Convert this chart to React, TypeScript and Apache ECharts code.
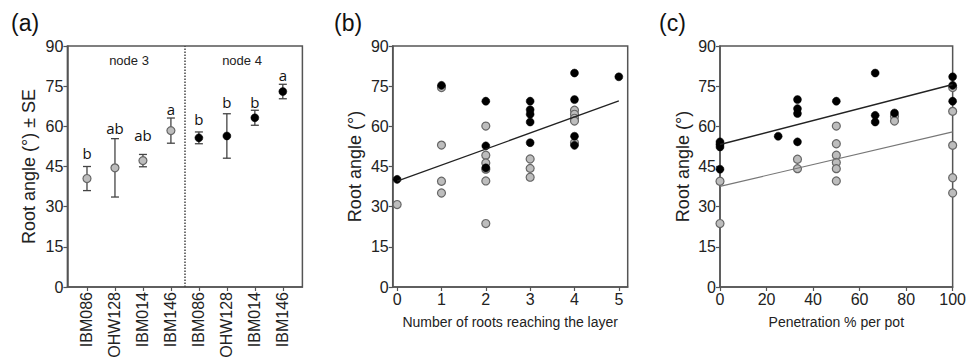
import React, { useEffect, useRef } from "react";
import * as echarts from "echarts";

// ---------- Panel (a) ----------
const genotypes = ["IBM086", "OHW128", "IBM014", "IBM146"];
const node3Mean = [40.5, 44.5, 47.2, 58.4];
const node3SE = [4.5, 10.9, 2.3, 4.7];
const node4Mean = [55.7, 56.4, 63.2, 73.0];
const node4SE = [2.2, 8.3, 2.8, 2.7];
const node3Letters = ["b", "ab", "ab", "a"];
const node4Letters = ["b", "b", "b", "a"];
const node3LetterY = [50.0, 59.4, 56.6, 66.4];
const node4LetterY = [62.6, 69.1, 69.1, 79.1];

// ---------- Panel (b) ----------
const bBlack = [
  [0, 40.2], [1, 75.3], [2, 69.4], [2, 52.7], [2, 44.5],
  [3, 69.4], [3, 66.2], [3, 64.5], [3, 61.6], [3, 53.9],
  [4, 79.9], [4, 70.0], [4, 56.3], [4, 52.9], [5, 78.5],
];
const bGray = [
  [0, 30.8], [1, 74.5], [1, 53.0], [1, 39.5], [1, 35.1],
  [2, 60.1], [2, 49.2], [2, 46.3], [2, 44.0], [2, 39.6], [2, 23.7],
  [3, 47.8], [3, 44.3], [3, 41.0],
  [4, 66.0], [4, 64.5], [4, 63.0], [4, 62.0], [4, 53.9],
];
const bFit = [39.5, 6.0]; // intercept, slope
const bFitRange = [0, 5];

// ---------- Panel (c) ----------
const cBlack = [
  [0, 54.2], [0, 53.3], [0, 52.3], [0, 44.0], [25, 56.3],
  [33.3, 70.0], [33.3, 66.6], [33.3, 64.8], [33.3, 54.2],
  [50, 69.4], [66.7, 79.9], [66.7, 64.1], [66.7, 61.6],
  [75, 65.0], [100, 78.5], [100, 75.3], [100, 69.4],
];
const cGray = [
  [0, 39.5], [0, 23.7], [33.3, 47.7], [33.3, 44.2],
  [50, 60.1], [50, 53.5], [50, 49.2], [50, 46.5], [50, 44.2], [50, 39.6],
  [75, 63.8], [75, 62.0],
  [100, 74.5], [100, 65.6], [100, 52.9], [100, 40.8], [100, 35.1],
];
const cFitBlack = [53.2, 0.224];
const cFitGray = [37.6, 0.203];
const cFitRange = [0, 100];

const yTicks = { min: 0, max: 90, interval: 15 };

const FONT = "'Liberation Sans', Arial, sans-serif";
const AXIS_COLOR = "#555";
const TEXT_COLOR = "#222";
const GRAY_FILL = "#bdbdbd";
const GRAY_BORDER = "#666";
const BLACK = "#000";

function fitLine(coef: number[], range: number[]) {
  return range.map((x) => [x, coef[0] + coef[1] * x]);
}

function yAxis(gridIndex: number, name: string, nameGap: number) {
  return {
    type: "value",
    gridIndex,
    min: yTicks.min,
    max: yTicks.max,
    interval: yTicks.interval,
    name,
    nameLocation: "middle",
    nameGap,
    nameTextStyle: { fontFamily: FONT, fontSize: 18, color: TEXT_COLOR },
    axisLine: { show: true, onZero: false, lineStyle: { color: AXIS_COLOR, width: 1.5 } },
    axisTick: { show: true, inside: false, length: 4, lineStyle: { color: AXIS_COLOR, width: 1.2 } },
    axisLabel: { fontFamily: FONT, fontSize: 16, color: TEXT_COLOR, margin: 4 },
    splitLine: { show: false },
  };
}

export default function App() {
  const ref = useRef<HTMLDivElement>(null);

  useEffect(() => {
    if (!ref.current) return;
    const chart = echarts.init(ref.current, null, { renderer: "svg" });

    const errData: number[][] = [];
    const letterData: any[] = [];
    const n3pts: number[][] = [];
    const n4pts: number[][] = [];
    genotypes.forEach((g, i) => {
      errData.push([i, node3Mean[i], node3SE[i]]);
      letterData.push({ value: [i, node3LetterY[i]], name: node3Letters[i] });
      n3pts.push([i, node3Mean[i]]);
    });
    genotypes.forEach((g, i) => {
      const k = i + genotypes.length;
      errData.push([k, node4Mean[i], node4SE[i]]);
      letterData.push({ value: [k, node4LetterY[i]], name: node4Letters[i] });
      n4pts.push([k, node4Mean[i]]);
    });
    const catIdx = Array.from({ length: genotypes.length * 2 }, (_, i) => i);

    const gridBase = {
      top: 46,
      height: 241,
      width: 235,
      show: true,
      borderColor: AXIS_COLOR,
      borderWidth: 1.5,
      backgroundColor: "transparent",
      containLabel: false,
    };

    const grayStyle = { color: GRAY_FILL, borderColor: GRAY_BORDER, borderWidth: 1.2, opacity: 1 };
    const blackStyle = { color: BLACK, borderColor: BLACK, borderWidth: 0.5, opacity: 1 };

    const option: any = {
      animation: false,
      backgroundColor: "#fff",
      textStyle: { fontFamily: FONT },
      grid: [
        { ...gridBase, left: 67.4 },
        { ...gridBase, left: 392.7 },
        { ...gridBase, left: 720 },
      ],
      xAxis: [
        {
          type: "value",
          gridIndex: 0,
          min: -0.7,
          max: 7.7,
          axisLine: { show: true, onZero: false, lineStyle: { color: AXIS_COLOR, width: 1.5 } },
          axisTick: { show: true, length: 4, customValues: catIdx, lineStyle: { color: AXIS_COLOR, width: 1.2 } },
          axisLabel: {
            customValues: catIdx,
            rotate: 90,
            fontFamily: FONT,
            fontSize: 16,
            color: TEXT_COLOR,
            margin: 5,
            formatter: (v: number) => genotypes[Math.round(v) % genotypes.length],
          },
          splitLine: { show: false },
        },
        {
          type: "value",
          gridIndex: 1,
          min: -0.1,
          max: 5.2,
          name: "Number of roots reaching the layer",
          nameLocation: "middle",
          nameGap: 28,
          nameTextStyle: { fontFamily: FONT, fontSize: 14, color: TEXT_COLOR },
          axisLine: { show: true, onZero: false, lineStyle: { color: AXIS_COLOR, width: 1.5 } },
          axisTick: { show: true, length: 4, customValues: [0, 1, 2, 3, 4, 5], lineStyle: { color: AXIS_COLOR, width: 1.2 } },
          axisLabel: { customValues: [0, 1, 2, 3, 4, 5], fontFamily: FONT, fontSize: 16, color: TEXT_COLOR, margin: 4 },
          splitLine: { show: false },
        },
        {
          type: "value",
          gridIndex: 2,
          min: 0,
          max: 100,
          interval: 20,
          name: "Penetration % per pot",
          nameLocation: "middle",
          nameGap: 28,
          nameTextStyle: { fontFamily: FONT, fontSize: 14, color: TEXT_COLOR },
          axisLine: { show: true, onZero: false, lineStyle: { color: AXIS_COLOR, width: 1.5 } },
          axisTick: { show: true, length: 4, lineStyle: { color: AXIS_COLOR, width: 1.2 } },
          axisLabel: { fontFamily: FONT, fontSize: 16, color: TEXT_COLOR, margin: 4 },
          splitLine: { show: false },
        },
      ],
      yAxis: [
        yAxis(0, "Root angle (°) ± SE", 29),
        yAxis(1, "Root angle (°)", 29),
        yAxis(2, "Root angle (°)", 28),
      ],
      series: [
        // ----- panel a -----
        {
          type: "custom",
          xAxisIndex: 0,
          yAxisIndex: 0,
          data: errData,
          z: 2,
          itemStyle: { color: "#444" },
          renderItem: (params: any, api: any) => {
            const x = api.value(0);
            const m = api.value(1);
            const se = api.value(2);
            const top = api.coord([x, m + se]);
            const bot = api.coord([x, m - se]);
            const hw = 4;
            const st = { stroke: "#444", lineWidth: 1.3 };
            return {
              type: "group",
              children: [
                { type: "line", shape: { x1: top[0], y1: top[1], x2: bot[0], y2: bot[1] }, style: st },
                { type: "line", shape: { x1: top[0] - hw, y1: top[1], x2: top[0] + hw, y2: top[1] }, style: st },
                { type: "line", shape: { x1: bot[0] - hw, y1: bot[1], x2: bot[0] + hw, y2: bot[1] }, style: st },
              ],
            };
          },
          markLine: {
            silent: true,
            symbol: "none",
            label: { show: false },
            lineStyle: { type: "dotted", color: "#444", width: 1.5 },
            data: [{ xAxis: 3.5 }],
          },
        },
        {
          type: "scatter",
          xAxisIndex: 0,
          yAxisIndex: 0,
          data: n3pts,
          symbolSize: 8,
          itemStyle: grayStyle,
          z: 3,
        },
        {
          type: "scatter",
          xAxisIndex: 0,
          yAxisIndex: 0,
          data: n4pts,
          symbolSize: 8,
          itemStyle: blackStyle,
          z: 3,
        },
        {
          type: "scatter",
          xAxisIndex: 0,
          yAxisIndex: 0,
          data: letterData,
          symbolSize: 0,
          itemStyle: { color: "transparent" },
          z: 4,
          label: {
            show: true,
            position: "inside",
            formatter: (p: any) => p.name,
            fontFamily: "'Open Sans', sans-serif",
            fontSize: 15,
            color: "#111",
            opacity: 1,
          },
        },
        // ----- panel b -----
        {
          type: "scatter",
          xAxisIndex: 1,
          yAxisIndex: 1,
          data: bGray,
          symbolSize: 8,
          clip: false,
          itemStyle: grayStyle,
          z: 2,
        },
        {
          type: "scatter",
          xAxisIndex: 1,
          yAxisIndex: 1,
          data: bBlack,
          symbolSize: 8,
          clip: false,
          itemStyle: blackStyle,
          z: 3,
        },
        {
          type: "line",
          xAxisIndex: 1,
          yAxisIndex: 1,
          data: fitLine(bFit, bFitRange),
          showSymbol: false,
          symbol: "none",
          lineStyle: { color: "#222", width: 1.3 },
          z: 5,
        },
        // ----- panel c -----
        {
          type: "scatter",
          xAxisIndex: 2,
          yAxisIndex: 2,
          data: cGray,
          symbolSize: 8,
          clip: false,
          itemStyle: grayStyle,
          z: 2,
        },
        {
          type: "scatter",
          xAxisIndex: 2,
          yAxisIndex: 2,
          data: cBlack,
          symbolSize: 8,
          clip: false,
          itemStyle: blackStyle,
          z: 3,
        },
        {
          type: "line",
          xAxisIndex: 2,
          yAxisIndex: 2,
          data: fitLine(cFitBlack, cFitRange),
          symbol: "none",
          lineStyle: { color: "#222", width: 1.5 },
          z: 5,
        },
        {
          type: "line",
          xAxisIndex: 2,
          yAxisIndex: 2,
          data: fitLine(cFitGray, cFitRange),
          symbol: "none",
          lineStyle: { color: "#777", width: 1.2 },
          z: 5,
        },
      ],
      graphic: [
        { type: "text", left: 11, top: 11, style: { text: "(a)", fontFamily: FONT, fontSize: 23, fill: "#111" } },
        { type: "text", left: 334, top: 11, style: { text: "(b)", fontFamily: FONT, fontSize: 23, fill: "#111" } },
        { type: "text", left: 659, top: 11, style: { text: "(c)", fontFamily: FONT, fontSize: 23, fill: "#111" } },
        { type: "text", x: 129, y: 60, style: { text: "node 3", fontFamily: FONT, fontSize: 13, fill: TEXT_COLOR, align: "center", verticalAlign: "middle" } },
        { type: "text", x: 242, y: 60, style: { text: "node 4", fontFamily: FONT, fontSize: 13, fill: TEXT_COLOR, align: "center", verticalAlign: "middle" } },
      ],
    };

    chart.setOption(option);
    return () => chart.dispose();
  }, []);

  return (
    <div
      ref={ref}
      style={{ position: "fixed", left: 0, top: 0, width: 969, height: 361, background: "#fff" }}
    />
  );
}
